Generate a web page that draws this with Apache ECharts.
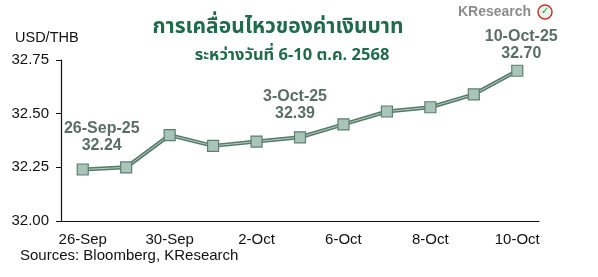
<!DOCTYPE html>
<html><head><meta charset="utf-8">
<script src="https://cdn.jsdelivr.net/npm/echarts@6/dist/echarts.min.js"></script>
<style>html,body{margin:0;padding:0;background:#fff}#c{width:598px;height:277px}</style>
</head><body><div id="c"></div>
<script>
const categories = ['26-Sep','29-Sep','30-Sep','1-Oct','2-Oct','3-Oct','6-Oct','7-Oct','8-Oct','9-Oct','10-Oct'];
const values = [32.24, 32.25, 32.40, 32.35, 32.37, 32.39, 32.45, 32.51, 32.53, 32.59, 32.70];
const calloutDates = ['26-Sep-25', '', '', '', '', '3-Oct-25', '', '', '', '', '10-Oct-25'];
const yTicks = [32.00, 32.25, 32.50, 32.75];

const chart = echarts.init(document.getElementById('c'), null, {renderer:'canvas'});
const dist = [9, 0, 0, 0, 0, 9, 0, 0, 0, 0, 3];
const offs = [[19, 0], null, null, null, null, [-5, 0], null, null, null, null, [4, 0]];
const data = values.map((v, i) => {
  if (!calloutDates[i]) return v;
  return {value: v, label: {show: true, position: 'top', distance: dist[i], offset: offs[i],
    formatter: calloutDates[i] + '\n' + v.toFixed(2)}};
});
const font = 'Liberation Sans, Arial, sans-serif';
const thai = 'Noto Sans Thai, Noto Sans, Tahoma, sans-serif';
chart.setOption({
  animation: false,
  grid: {left: 61, right: 59, top: 60, bottom: 56},
  title: [
    {text: 'การเคลื่อนไหวของค่าเงินบาท', left: 273, top: 13, textAlign: 'center',
     textStyle: {fontSize: 21, fontWeight: 'bold', color: '#1f6b4b', fontFamily: thai}},
    {text: 'ระหว่างวันที่ 6-10 ต.ค. 2568', left: 287, top: 43, textAlign: 'center',
     textStyle: {fontSize: 16.5, fontWeight: 'bold', color: '#1f6b4b', fontFamily: thai}}
  ],
  graphic: [
    {type: 'text', left: 15, top: 30, style: {text: 'USD/THB', font: '14.5px ' + font, fill: '#111'}},
    {type: 'text', left: 20, top: 248, style: {text: 'Sources: Bloomberg, KResearch', font: '15px ' + font, fill: '#111'}},
    {type: 'text', left: 458, top: 5, style: {text: 'KResearch', font: 'bold 14px ' + font, fill: '#8c8c8c'}},
    {type: 'circle', shape: {cx: 545, cy: 12, r: 7}, style: {fill: '#e8f3ea', stroke: '#c0392b', lineWidth: 1.5}},
    {type: 'text', left: 541, top: 6, style: {text: '✓', font: 'bold 10px DejaVu Sans', fill: '#2e8b57'}}
  ],
  xAxis: {
    type: 'category', data: categories, boundaryGap: true,
    axisLine: {lineStyle: {color: '#111', width: 1.2}},
    axisTick: {interval: 0, length: 5, lineStyle: {color: '#111'}},
    axisLabel: {interval: 1, color: '#111', fontSize: 15, fontFamily: font, margin: 11}
  },
  yAxis: {
    type: 'value', min: yTicks[0], max: yTicks[yTicks.length - 1], interval: 0.25,
    splitLine: {show: false},
    axisLine: {show: true, lineStyle: {color: '#111', width: 1.2}},
    axisTick: {show: true, length: 5, lineStyle: {color: '#111'}},
    axisLabel: {color: '#111', fontSize: 15, fontFamily: font, margin: 12,
      formatter: v => v.toFixed(2)}
  },
  series: [
    {type: 'line', data: values, symbol: 'none', silent: true,
     lineStyle: {color: '#557a68', width: 4}, z: 2},
    {type: 'line', data: data, symbol: 'rect', symbolSize: 11,
     itemStyle: {color: '#a9c5b9', borderColor: '#5d7f6f', borderWidth: 1.2},
     lineStyle: {color: '#b8d0c4', width: 1}, z: 3,
     label: {show: false, color: '#5b6e66', fontSize: 16, fontWeight: 'bold', fontFamily: font, lineHeight: 17, align: 'center'}}
  ]
});
</script></body></html>
